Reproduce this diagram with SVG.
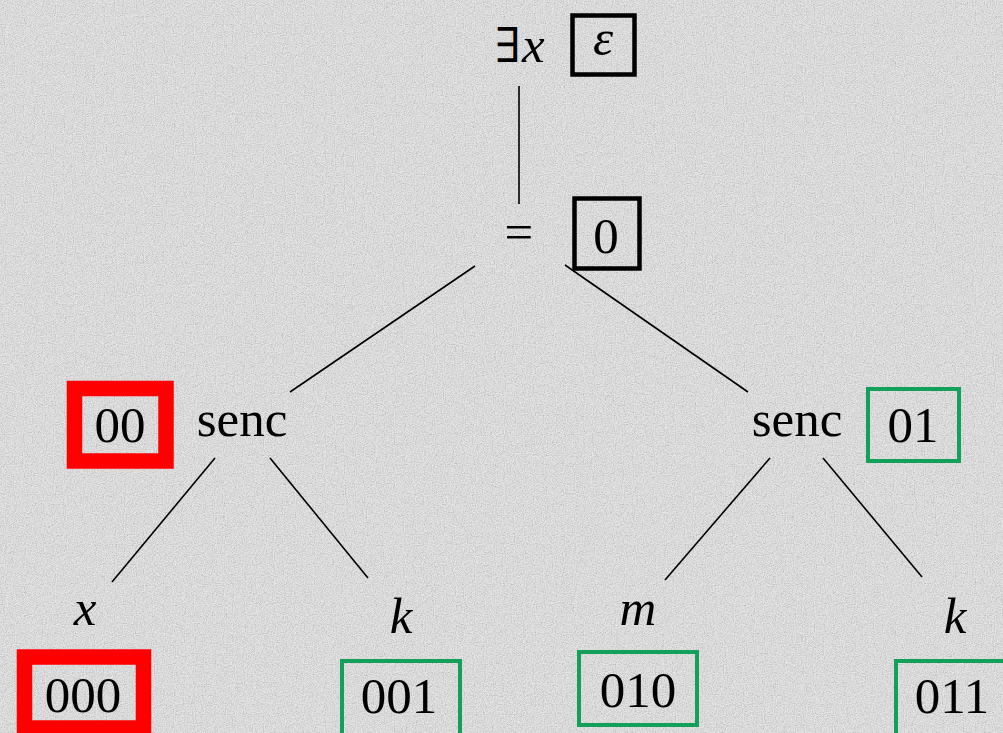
<svg xmlns="http://www.w3.org/2000/svg" width="1003" height="733" viewBox="0 0 1003 733">
<defs>
<filter id="noise" x="0" y="0" width="100%" height="100%">
<feTurbulence type="fractalNoise" baseFrequency="0.9" numOctaves="2" seed="3" result="t"/>
<feComponentTransfer in="t" result="gray"><feFuncR type="linear" slope="1.3" intercept="0.15"/><feFuncG type="linear" slope="1.3" intercept="0.15"/><feFuncB type="linear" slope="1.3" intercept="0.15"/><feFuncA type="linear" slope="0" intercept="1"/></feComponentTransfer>
<feColorMatrix in="gray" type="saturate" values="0"/>
</filter>
<style>
.t{font-family:"Liberation Serif","DejaVu Serif",serif;font-size:51px;fill:#000;text-anchor:middle}
.i{font-style:italic}
.bk{fill:none;stroke:#000;stroke-width:4.5}
.rd{fill:none;stroke:#ff0000;stroke-width:15.5}
.gr{fill:none;stroke:#12a05a;stroke-width:4}
.c line{stroke:#000;stroke-width:1.6}
</style>
</defs>
<rect width="1003" height="733" fill="#c6c6c6"/>
<rect width="1003" height="733" filter="url(#noise)" opacity="0.6"/>
<g class="c" id="connectors">
<line x1="519" y1="86" x2="519" y2="204"/>
<line x1="475" y1="266" x2="290" y2="392"/>
<line x1="565" y1="265" x2="748" y2="392"/>
<line x1="215" y1="458" x2="112" y2="582"/>
<line x1="270" y1="458" x2="368" y2="578"/>
<line x1="770" y1="458" x2="665" y2="580"/>
<line x1="823" y1="458" x2="922" y2="577"/>
</g>
<g id="root">
<text class="t" x="495" y="62" style="text-anchor:start"><tspan font-family="DejaVu Serif" font-size="48">∃</tspan><tspan class="i" x="522">x</tspan></text>
<rect class="bk" x="572.5" y="15.5" width="62" height="59"/>
<text class="t i" x="603" y="55" font-size="46">ε</text>
</g>
<g id="eq">
<text class="t" x="519" y="249">=</text>
<rect class="bk" x="574.5" y="198.5" width="65" height="70"/>
<text class="t" x="606" y="253">0</text>
</g>
<g id="senc-left">
<text class="t" x="242" y="436">senc</text>
<rect class="rd" x="74.5" y="388.5" width="91.5" height="72.5"/>
<text class="t" x="120" y="442">00</text>
</g>
<g id="senc-right">
<text class="t" x="797" y="436">senc</text>
<rect class="gr" x="868" y="389" width="91" height="72"/>
<text class="t" x="913" y="442">01</text>
</g>
<g id="leaf-x">
<text class="t i" x="85" y="625">x</text>
<rect class="rd" x="24.5" y="657" width="119" height="71"/>
<text class="t" x="83" y="712">000</text>
</g>
<g id="leaf-k1">
<text class="t i" x="401" y="633">k</text>
<rect class="gr" x="342" y="661" width="118" height="80"/>
<text class="t" x="399" y="713">001</text>
</g>
<g id="leaf-m">
<text class="t i" x="638" y="625">m</text>
<rect class="gr" x="579" y="652" width="118" height="73"/>
<text class="t" x="638" y="707">010</text>
</g>
<g id="leaf-k2">
<text class="t i" x="955" y="633">k</text>
<rect class="gr" x="896" y="661" width="118" height="80"/>
<text class="t" x="952" y="713">011</text>
</g>
</svg>
